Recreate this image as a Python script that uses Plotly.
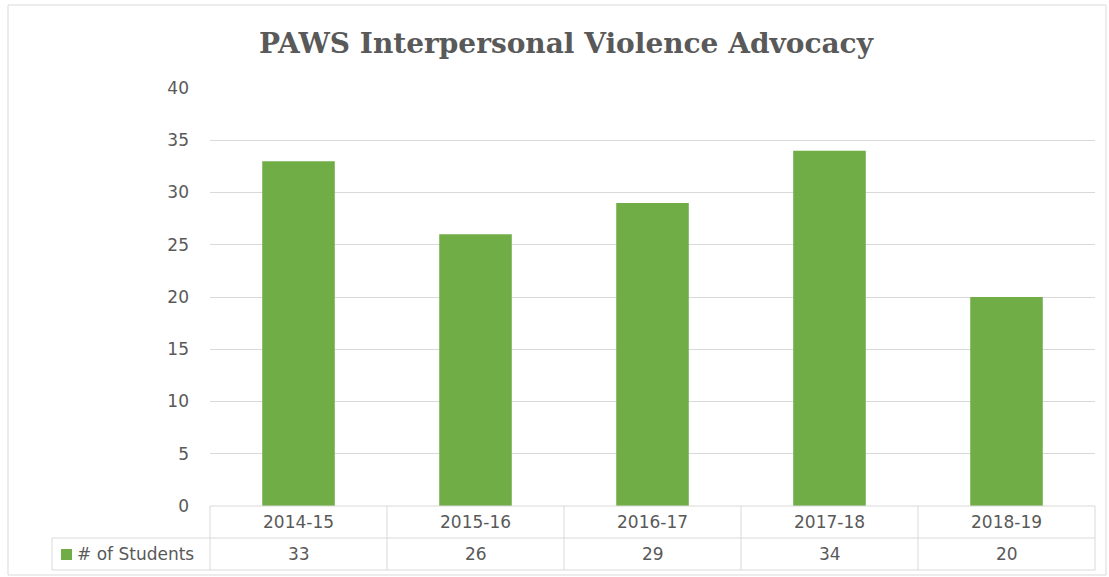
import plotly.graph_objects as go

categories = ["2014-15", "2015-16", "2016-17", "2017-18", "2018-19"]
students = [33, 26, 29, 34, 20]
series_name = "# of Students"
title_text = "PAWS Interpersonal Violence Advocacy"
y_ticks = [0, 5, 10, 15, 20, 25, 30, 35, 40]

W, H = 1109, 577
L, R, T, B = 210, 14, 88, 71
plot_w = W - L - R
plot_h = H - T - B

GREEN = "#70AD47"
TXT = "#595959"
GRID = "#D9D9D9"
SANS = "DejaVu Sans, sans-serif"
FS = 17


def px_to_paper_x(px):
    return (px - L) / plot_w


def px_to_paper_y(py):
    return (H - B - py) / plot_h


fig = go.Figure()
fig.add_trace(go.Bar(x=categories, y=students, marker=dict(color=GREEN, line=dict(width=0)),
                     width=0.41, name=series_name, showlegend=False, hoverinfo="skip"))

shapes = []
annotations = []

row1_top = px_to_paper_y(506)
row1_bot = px_to_paper_y(538)
row2_bot = px_to_paper_y(570)
leg_left = px_to_paper_x(52)

# table horizontal lines
shapes.append(dict(type="line", xref="paper", yref="paper", x0=0, x1=1, y0=row1_top, y1=row1_top,
                   line=dict(color=GRID, width=1)))
for yy in (row1_bot, row2_bot):
    shapes.append(dict(type="line", xref="paper", yref="paper", x0=leg_left, x1=1, y0=yy, y1=yy,
                       line=dict(color=GRID, width=1)))
# table vertical lines
shapes.append(dict(type="line", xref="paper", yref="paper", x0=leg_left, x1=leg_left, y0=row1_bot, y1=row2_bot,
                   line=dict(color=GRID, width=1)))
for i in range(len(categories) + 1):
    xx = i / len(categories)
    shapes.append(dict(type="line", xref="paper", yref="paper", x0=xx, x1=xx, y0=row1_top, y1=row2_bot,
                       line=dict(color=GRID, width=1)))

# outer chart border
shapes.append(dict(type="rect", xref="paper", yref="paper",
                   x0=px_to_paper_x(8), x1=px_to_paper_x(1106), y0=px_to_paper_y(575), y1=px_to_paper_y(5),
                   line=dict(color=GRID, width=1), layer="below"))

# legend key square
shapes.append(dict(type="rect", xref="paper", yref="paper",
                   x0=px_to_paper_x(61), x1=px_to_paper_x(72), y0=px_to_paper_y(560), y1=px_to_paper_y(549),
                   fillcolor=GREEN, line=dict(width=0)))

for cat, val in zip(categories, students):
    annotations.append(dict(x=cat, xref="x", y=(row1_top + row1_bot) / 2, yref="paper", text=cat,
                            xanchor="center", yanchor="middle",
                            showarrow=False, font=dict(family=SANS, size=FS, color=TXT)))
    annotations.append(dict(x=cat, xref="x", y=(row1_bot + row2_bot) / 2, yref="paper", text=str(val),
                            xanchor="center", yanchor="middle",
                            showarrow=False, font=dict(family=SANS, size=FS, color=TXT)))

annotations.append(dict(x=px_to_paper_x(75), xref="paper", y=(row1_bot + row2_bot) / 2, yref="paper",
                        text=series_name, xanchor="left", yanchor="middle", showarrow=False,
                        font=dict(family=SANS, size=FS, color=TXT)))

fig.update_layout(
    width=W, height=H,
    margin=dict(l=L, r=R, t=T, b=B),
    paper_bgcolor="white", plot_bgcolor="white",
    title=dict(text="<b>" + title_text + "</b>", x=566 / W, xanchor="center", y=1 - 43 / H, yanchor="middle",
               font=dict(family="DejaVu Serif, serif", size=28, color=TXT)),
    xaxis=dict(showticklabels=False, showgrid=False, showline=False, zeroline=False, ticks="",
               range=[-0.5, len(categories) - 0.5]),
    yaxis=dict(range=[0, 40], tickvals=y_ticks, showgrid=True, gridcolor=GRID, gridwidth=1,
               zeroline=False, showline=False, ticks="", ticklabelstandoff=20,
               tickfont=dict(family=SANS, size=FS, color=TXT)),
    shapes=shapes,
    annotations=annotations,
    bargap=0.59,
    hovermode=False,
)

fig.write_html("out.html", config={"displayModeBar": False},
               post_script="document.body.style.margin='0';document.body.style.overflow='hidden';")
